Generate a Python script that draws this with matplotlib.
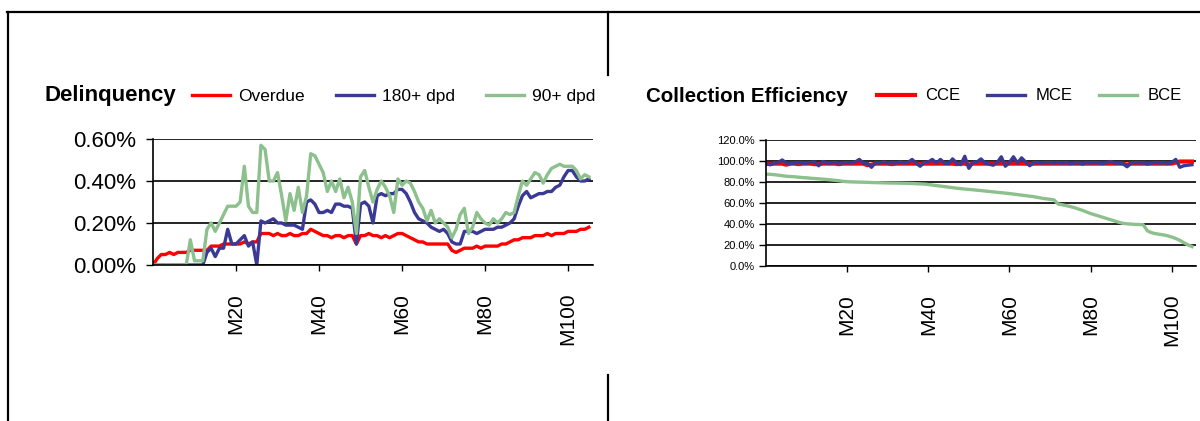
import matplotlib
matplotlib.use("Agg")
import matplotlib.pyplot as plt
from matplotlib.lines import Line2D
from matplotlib.ticker import StrMethodFormatter

plt.rcParams['font.family'] = ['Liberation Sans', 'DejaVu Sans']

# month index 0..105 (M0..M105)
months = list(range(106))
month_ticks = [20, 40, 60, 80, 100]
month_labels = ['M20', 'M40', 'M60', 'M80', 'M100']

# --- Delinquency (% of book) ---
overdue = [0.00, 0.03, 0.05, 0.05, 0.06, 0.05, 0.06, 0.06, 0.06, 0.07,
           0.07, 0.07, 0.07, 0.07, 0.09, 0.09, 0.09, 0.10, 0.10, 0.10,
           0.10, 0.10, 0.11, 0.10, 0.11, 0.11, 0.15, 0.15, 0.15, 0.14,
           0.15, 0.14, 0.14, 0.15, 0.14, 0.14, 0.15, 0.15, 0.17, 0.16,
           0.15, 0.14, 0.14, 0.13, 0.14, 0.14, 0.13, 0.14, 0.14, 0.10,
           0.14, 0.14, 0.15, 0.14, 0.14, 0.13, 0.14, 0.13, 0.14, 0.15,
           0.15, 0.14, 0.13, 0.12, 0.11, 0.11, 0.10, 0.10, 0.10, 0.10,
           0.10, 0.10, 0.07, 0.06, 0.07, 0.08, 0.08, 0.08, 0.09, 0.08,
           0.09, 0.09, 0.09, 0.09, 0.10, 0.10, 0.11, 0.12, 0.12, 0.13,
           0.13, 0.13, 0.14, 0.14, 0.14, 0.15, 0.14, 0.15, 0.15, 0.15,
           0.16, 0.16, 0.16, 0.17, 0.17, 0.18]
dpd180 = [0.00, 0.00, 0.00, 0.00, 0.00, 0.00, 0.00, 0.00, 0.00, 0.00,
          0.00, 0.00, 0.00, 0.06, 0.08, 0.04, 0.08, 0.08, 0.17, 0.10,
          0.10, 0.12, 0.14, 0.09, 0.11, 0.00, 0.21, 0.20, 0.21, 0.22,
          0.20, 0.20, 0.19, 0.19, 0.19, 0.18, 0.17, 0.30, 0.31, 0.29,
          0.25, 0.25, 0.26, 0.25, 0.29, 0.29, 0.28, 0.28, 0.27, 0.10,
          0.29, 0.30, 0.28, 0.20, 0.33, 0.34, 0.33, 0.34, 0.34, 0.36,
          0.36, 0.34, 0.30, 0.25, 0.22, 0.21, 0.20, 0.18, 0.17, 0.16,
          0.17, 0.15, 0.11, 0.10, 0.10, 0.16, 0.16, 0.16, 0.15, 0.16,
          0.17, 0.17, 0.17, 0.18, 0.18, 0.19, 0.20, 0.22, 0.28, 0.33,
          0.35, 0.32, 0.33, 0.34, 0.34, 0.35, 0.35, 0.37, 0.38, 0.42,
          0.45, 0.45, 0.42, 0.40, 0.40, 0.41]
dpd90 = [0.00, 0.00, 0.00, 0.00, 0.00, 0.00, 0.00, 0.00, 0.00, 0.12,
         0.02, 0.02, 0.02, 0.17, 0.20, 0.16, 0.20, 0.24, 0.28, 0.28,
         0.28, 0.30, 0.47, 0.28, 0.25, 0.25, 0.57, 0.55, 0.40, 0.40,
         0.44, 0.33, 0.21, 0.34, 0.26, 0.37, 0.25, 0.33, 0.53, 0.52,
         0.48, 0.44, 0.35, 0.40, 0.35, 0.41, 0.32, 0.37, 0.30, 0.15,
         0.42, 0.45, 0.37, 0.30, 0.36, 0.40, 0.37, 0.33, 0.25, 0.41,
         0.38, 0.40, 0.39, 0.35, 0.30, 0.27, 0.21, 0.26, 0.20, 0.22,
         0.20, 0.18, 0.13, 0.17, 0.24, 0.27, 0.15, 0.18, 0.25, 0.22,
         0.20, 0.19, 0.22, 0.20, 0.22, 0.25, 0.24, 0.25, 0.33, 0.40,
         0.38, 0.41, 0.44, 0.43, 0.39, 0.43, 0.46, 0.47, 0.48, 0.47,
         0.47, 0.47, 0.45, 0.41, 0.43, 0.42]

# --- Collection efficiency (%) ---
cce = [97.5, 97.0, 97.5, 97.5, 97.5, 96.5, 97.5, 97.5, 97.0, 97.5,
       97.5, 97.5, 97.0, 97.0, 97.5, 97.5, 97.5, 97.5, 97.0, 97.5,
       97.5, 97.5, 97.5, 97.5, 97.5, 96.0, 96.5, 97.5, 97.5, 97.5,
       97.5, 97.0, 97.5, 97.5, 97.5, 97.5, 97.5, 97.5, 97.0, 97.5,
       97.5, 97.5, 97.5, 97.5, 97.5, 97.5, 97.5, 97.0, 97.5, 97.5,
       96.5, 97.5, 97.5, 97.5, 97.5, 97.5, 97.5, 97.5, 97.5, 97.5,
       97.5, 97.5, 97.5, 97.5, 97.5, 97.0, 97.5, 97.5, 97.5, 97.5,
       97.5, 97.5, 97.5, 97.5, 97.5, 97.5, 97.5, 97.5, 97.5, 97.5,
       97.5, 97.5, 97.5, 97.5, 97.5, 97.5, 97.5, 97.5, 97.5, 96.5,
       97.5, 97.5, 97.5, 97.5, 97.5, 97.5, 97.5, 97.5, 97.5, 97.5,
       97.5, 98.5, 99.5, 99.5, 99.5, 99.5]
mce = [97.5, 96.5, 98.0, 98.5, 101.0, 98.0, 97.5, 98.0, 98.5, 98.0,
       98.0, 98.5, 99.0, 95.5, 99.5, 98.0, 98.0, 98.5, 98.0, 98.0,
       98.5, 98.0, 99.0, 101.5, 98.0, 98.0, 94.0, 98.5, 98.0, 99.0,
       98.0, 98.5, 98.0, 99.0, 98.0, 98.5, 101.5, 98.0, 95.0, 98.5,
       99.0, 101.5, 98.0, 101.5, 98.0, 97.5, 102.0, 98.0, 96.5, 104.5,
       93.0, 98.5, 99.0, 102.0, 98.0, 97.0, 96.0, 98.5, 104.0, 95.0,
       98.5, 104.0, 98.0, 103.0, 99.0, 95.5, 98.5, 98.5, 98.0, 98.5,
       98.5, 98.0, 98.5, 98.0, 98.5, 97.5, 98.0, 98.5, 97.0, 98.5,
       98.0, 98.5, 98.0, 97.5, 98.5, 99.5, 98.0, 98.0, 97.5, 94.5,
       98.0, 98.5, 98.0, 98.5, 97.0, 98.0, 98.5, 98.0, 98.5, 97.5,
       98.5, 101.5, 94.0, 95.5, 96.0, 96.5]
bce = [87.5, 87.3, 87.0, 86.5, 86.0, 85.5, 85.2, 85.0, 84.6, 84.2,
       84.0, 83.6, 83.3, 83.0, 82.7, 82.4, 82.0, 81.6, 81.2, 80.6,
       80.3, 80.1, 80.0, 79.9, 79.8, 79.7, 79.5, 79.4, 79.3, 79.2,
       79.1, 79.0, 79.0, 78.9, 78.8, 78.7, 78.6, 78.4, 78.2, 78.0,
       77.6, 77.1, 76.6, 76.1, 75.6, 75.1, 74.6, 74.1, 73.7, 73.3,
       72.9, 72.6, 72.2, 71.8, 71.4, 71.0, 70.6, 70.2, 69.8, 69.4,
       69.0, 68.5, 68.0, 67.5, 67.0, 66.5, 66.0, 65.3, 64.6, 64.0,
       63.5, 63.0, 59.0, 58.3, 57.5, 56.6, 55.6, 54.3, 53.0, 51.5,
       50.0, 48.8, 47.6, 46.4, 45.2, 44.0, 42.8, 41.6, 40.6, 40.2,
       39.9, 39.6, 39.5, 39.3, 33.5, 31.8, 30.8, 30.2, 29.6, 28.8,
       27.6, 26.2, 24.5, 22.2, 20.2, 18.5]

RED = '#FF0000'
BLUE = '#3A3A96'
GREEN = '#8CC08C'

W, H = 1200, 421
fig = plt.figure(figsize=(W / 100, H / 100), dpi=100)


def fx(px):
    return px / W


def fy(py):
    return 1 - py / H


# table border lines around the two chart cells
for xs, ys in [((7, 1200), (12, 12)), ((8, 8), (12, 421)),
               ((608, 608), (12, 75)), ((608, 608), (375, 421))]:
    fig.add_artist(Line2D([fx(x) for x in xs], [fy(y) for y in ys],
                          transform=fig.transFigure, color='black', lw=1.6))


def style_axes(ax):
    ax.set_xlim(0, 106)
    ax.spines['top'].set_visible(False)
    ax.spines['right'].set_visible(False)
    for s in ('left', 'bottom'):
        ax.spines[s].set_color('black')
        ax.spines[s].set_linewidth(1.2)
    ax.grid(axis='y', color='black', lw=1.2)
    ax.set_axisbelow(True)
    ax.set_xticks(month_ticks)
    ax.set_xticklabels(month_labels, rotation=90, fontsize=15, va='top')
    ax.tick_params(axis='x', length=4, width=1, pad=16)


# ---------------- Delinquency ----------------
ax1 = fig.add_axes([fx(153), fy(265), fx(593) - fx(153), fy(139) - fy(265)])
ax1.plot(months, overdue, color=RED, lw=2.4, label='Overdue')
ax1.plot(months, dpd180, color=BLUE, lw=2.4, label='180+ dpd')
ax1.plot(months, dpd90, color=GREEN, lw=2.4, label='90+ dpd')
ax1.set_ylim(0, 0.6)
ax1.set_yticks([0, 0.2, 0.4, 0.6])
ax1.yaxis.set_major_formatter(StrMethodFormatter('{x:.2f}%'))
style_axes(ax1)
ax1.tick_params(axis='y', length=5, width=1, pad=7, labelsize=16)

fig.text(fx(45), fy(95), 'Delinquency', fontsize=16, fontweight='bold',
         va='center', ha='left')
ax1.legend(loc='center left', bbox_to_anchor=(fx(192), fy(96)),
           bbox_transform=fig.transFigure, ncol=3, frameon=False,
           fontsize=12.5, handlelength=2.2, handletextpad=0.45,
           columnspacing=1.8, borderpad=0, borderaxespad=0)

# ---------------- Collection Efficiency ----------------
ax2 = fig.add_axes([fx(766), fy(266), fx(1196) - fx(766), fy(140) - fy(266)])
ax2.plot(months, cce, color=RED, lw=3.0, label='CCE')
ax2.plot(months, mce, color=BLUE, lw=2.4, label='MCE')
ax2.plot(months, bce, color=GREEN, lw=2.4, label='BCE')
ax2.set_ylim(0, 120)
ax2.set_yticks(range(0, 121, 20))
ax2.yaxis.set_major_formatter(StrMethodFormatter('{x:.1f}%'))
style_axes(ax2)
ax2.tick_params(axis='y', length=5, width=1, pad=3, labelsize=8)

fig.text(fx(646), fy(96), 'Collection Efficiency', fontsize=14.8,
         fontweight='bold', va='center', ha='left')
ax2.legend(loc='center left', bbox_to_anchor=(fx(877), fy(96)),
           bbox_transform=fig.transFigure, ncol=3, frameon=False,
           fontsize=12, handlelength=2.3, handletextpad=0.6,
           columnspacing=1.6, borderpad=0, borderaxespad=0)

fig.savefig('out.png', dpi=100, facecolor='white')
